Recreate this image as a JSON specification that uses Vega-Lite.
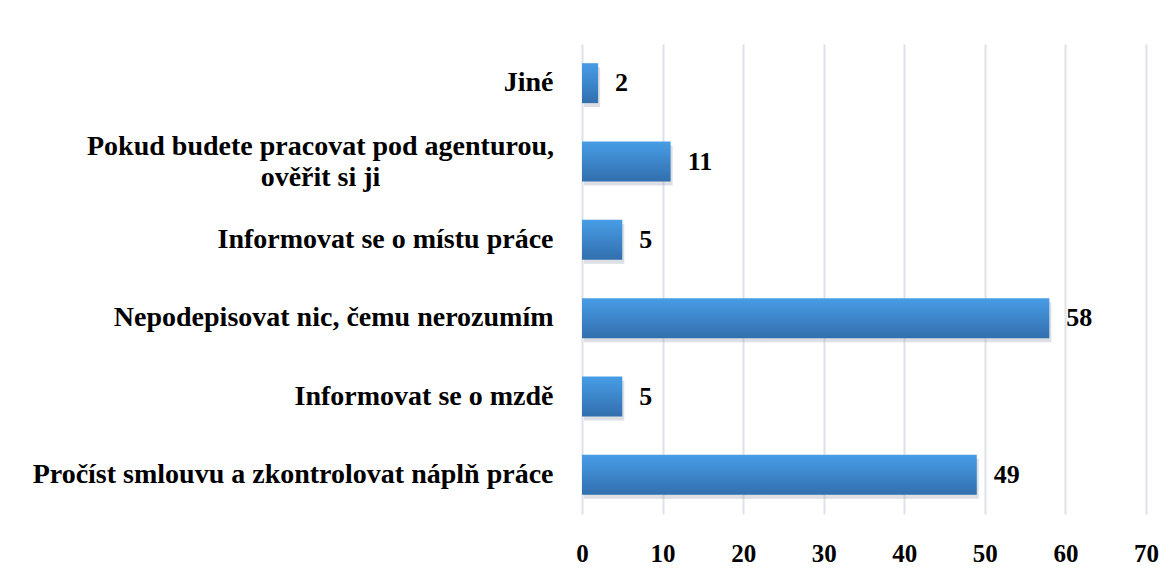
{
  "$schema": "https://vega.github.io/schema/vega-lite/v6.json",
  "autosize": "none",
  "width": 564,
  "height": 470,
  "padding": {"left": 582, "top": 44, "right": 29, "bottom": 63},
  "background": "white",
  "config": {"view": {"stroke": null}, "font": "Liberation Serif"},
  "data": {
    "values": [
      {"kategorie": "Jiné", "pocet": 2},
      {"kategorie": "Pokud budete pracovat pod agenturou, ověřit si ji", "pocet": 11},
      {"kategorie": "Informovat se o místu práce", "pocet": 5},
      {"kategorie": "Nepodepisovat nic, čemu nerozumím", "pocet": 58},
      {"kategorie": "Informovat se o mzdě", "pocet": 5},
      {"kategorie": "Pročíst smlouvu a zkontrolovat náplň práce", "pocet": 49}
    ]
  },
  "encoding": {
    "x": {
      "field": "pocet",
      "type": "quantitative",
      "scale": {"domain": [0, 70], "nice": false},
      "axis": {
        "title": null,
        "values": [0, 10, 20, 30, 40, 50, 60, 70],
        "domain": false,
        "ticks": false,
        "grid": true,
        "gridColor": "#dde2e8",
        "gridWidth": 2,
        "labelFont": "Liberation Serif",
        "labelFontSize": 25,
        "labelFontWeight": "bold",
        "labelColor": "#000000",
        "labelPadding": 27,
        "labelFlush": false
      }
    }
  },
  "layer": [
    {
      "mark": {"type": "bar", "color": "#9aa6b2", "opacity": 0.35, "yOffset": 4, "xOffset": 2},
      "encoding": {
        "y": {
          "field": "kategorie",
          "type": "nominal",
          "sort": null,
          "scale": {"paddingInner": 0.49, "paddingOuter": 0.245},
          "axis": {
            "orient": "left",
            "title": null,
            "domain": false,
            "ticks": false,
            "grid": false,
            "labelFont": "Liberation Serif",
            "labelFontSize": 28,
            "labelFontWeight": "bold",
            "labelColor": "#000000",
            "labelPadding": 29,
            "labelLimit": 600,
            "labelAlign": "right",
            "labelExpr": "indexof(datum.value, 'agenturou') >= 0 ? '' : datum.label"
          }
        }
      }
    },
    {
      "mark": {
        "type": "bar",
        "color": {
          "gradient": "linear",
          "x1": 0, "y1": 0, "x2": 0, "y2": 1,
          "stops": [
            {"offset": 0, "color": "#479de6"},
            {"offset": 1, "color": "#326fae"}
          ]
        }
      },
      "encoding": {
        "y": {
          "field": "kategorie",
          "type": "nominal",
          "sort": null,
          "axis": {
            "orient": "left",
            "title": null,
            "domain": false,
            "ticks": false,
            "grid": false,
            "labelFont": "Liberation Serif",
            "labelFontSize": 28,
            "labelFontWeight": "bold",
            "labelColor": "#000000",
            "labelPadding": 262,
            "labelLimit": 600,
            "labelLineHeight": 31,
            "labelAlign": "center",
            "labelOffset": -15,
            "labelExpr": "indexof(datum.value, 'agenturou') >= 0 ? ['Pokud budete pracovat pod agenturou,', 'ověřit si ji'] : ''"
          }
        }
      }
    },
    {
      "mark": {"type": "text", "align": "left", "dx": 17, "font": "Liberation Serif", "fontSize": 26, "fontWeight": "bold", "color": "#000000"},
      "encoding": {
        "y": {"field": "kategorie", "type": "nominal", "sort": null, "axis": null},
        "text": {"field": "pocet", "type": "quantitative"}
      }
    }
  ],
  "resolve": {"axis": {"y": "independent"}}
}
